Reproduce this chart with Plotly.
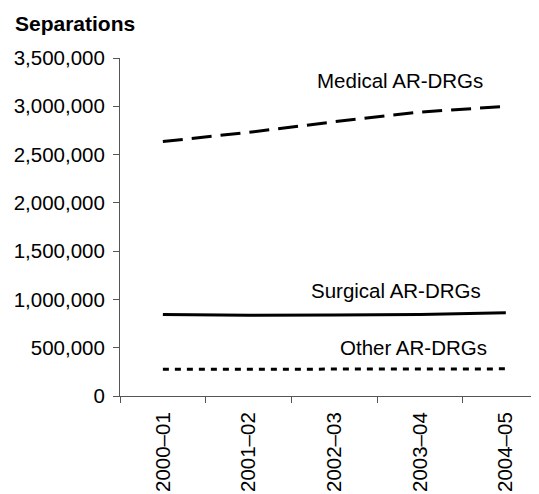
import plotly.graph_objects as go

# financial years on the x axis
years = ["2000\u201301", "2001\u201302", "2002\u201303", "2003\u201304", "2004\u201305"]

# separations by AR-DRG type
medical = [2635000, 2730000, 2840000, 2940000, 3000000]
surgical = [845000, 835000, 838000, 845000, 862000]
other = [276000, 278000, 279000, 280000, 281000]

y_ticks = [0, 500000, 1000000, 1500000, 2000000, 2500000, 3000000, 3500000]

font = "Liberation Sans, Arial, sans-serif"

fig = go.Figure()

fig.add_trace(go.Scatter(
    x=years, y=medical, mode="lines", name="Medical AR-DRGs",
    line=dict(color="black", width=3, dash="20px,9px"),
))
fig.add_trace(go.Scatter(
    x=years, y=surgical, mode="lines", name="Surgical AR-DRGs",
    line=dict(color="black", width=3),
))
fig.add_trace(go.Scatter(
    x=years, y=other, mode="lines", name="Other AR-DRGs",
    line=dict(color="black", width=3, dash="6px,6px"),
))

# line labels sit next to each series
labels = [("Medical AR-DRGs", 2.77, 3268000),
          ("Surgical AR-DRGs", 2.72, 1091000),
          ("Other AR-DRGs", 2.92, 500000)]
for txt, xx, yy in labels:
    fig.add_annotation(x=xx, y=yy, text=txt, showarrow=False,
                       font=dict(size=20.5, color="black", family=font))

fig.add_annotation(
    text="<b>Separations</b>", xref="paper", yref="paper",
    x=-0.2506, y=1.1006, xanchor="left", yanchor="middle", showarrow=False,
    font=dict(size=21, color="black", family=font),
)

# the page has an 8px body margin, so margins are shifted to compensate
fig.update_layout(
    width=539, height=494,
    margin=dict(l=112, r=0, t=50, b=106),
    paper_bgcolor="white", plot_bgcolor="white",
    showlegend=False,
    font=dict(family=font, size=20.5, color="black"),
)

fig.update_xaxes(
    type="category", range=[-0.5, 4.48],
    showline=True, linecolor="#555", linewidth=1,
    ticks="outside", tickson="boundaries", ticklen=6, tickcolor="#555",
    tickangle=-90, ticklabelstandoff=7, showgrid=False, zeroline=False,
    tickfont=dict(size=20.5),
)
fig.update_yaxes(
    range=[0, 3500000], tickvals=y_ticks, tickformat=",d",
    showline=True, linecolor="#555", linewidth=1,
    ticks="outside", ticklen=6, tickcolor="#555", ticklabelstandoff=4,
    showgrid=False, zeroline=False,
    tickfont=dict(size=20.5),
)

fig.write_html("out.html")
